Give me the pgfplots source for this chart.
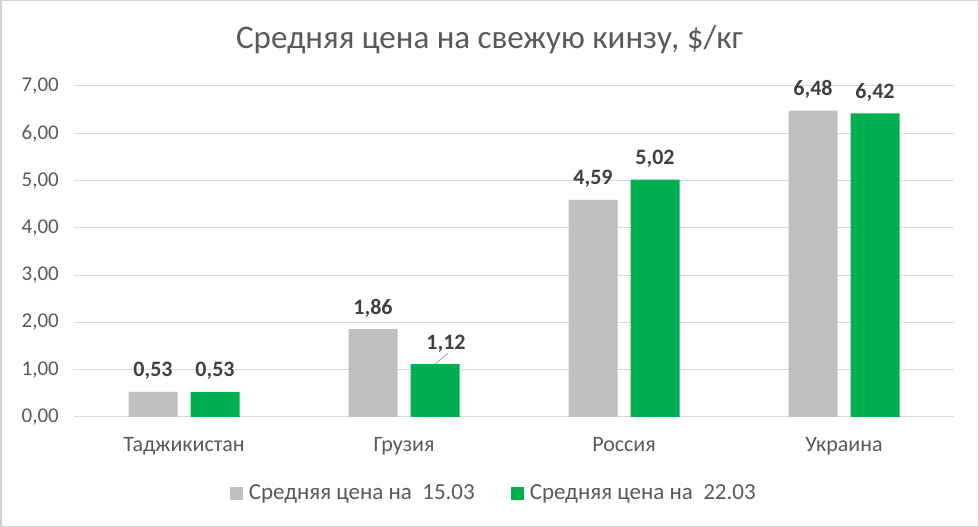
\documentclass[border=0pt]{standalone}
\usepackage{fontspec}
\setmainfont{Carlito}
\usepackage{pgfplots}
\pgfplotsset{compat=1.18}
\usepackage{pgfplotstable}
\definecolor{txt}{RGB}{89,89,89}
\definecolor{lbl}{RGB}{64,64,64}
\definecolor{gridc}{RGB}{217,217,217}
\definecolor{borderc}{RGB}{210,210,210}
\definecolor{barg}{RGB}{191,191,191}
\definecolor{barG}{RGB}{0,176,80}
\definecolor{leader}{RGB}{166,166,166}
\pgfplotstableread{
idx a b dxb
0 0.53 0.53 0
1 1.86 1.12 11
2 4.59 5.02 0
3 6.48 6.42 0
}\data
\begin{document}
\begin{tikzpicture}
\draw[color=borderc, line width=1.5bp] (0.75bp,0.75bp) rectangle (978.25bp,526.25bp);
\node[anchor=base, text=txt, font=\fontsize{33bp}{38bp}\selectfont] at (489.5bp,478bp) {Средняя цена на свежую кинзу, \$/кг};
\begin{axis}[
  at={(74bp,110bp)}, anchor=south west,
  scale only axis, width=880bp, height=331bp,
  xmin=-0.5, xmax=3.5, ymin=0, ymax=7,
  ybar=13bp, bar width=49bp,
  axis line style={draw=none},
  major tick length=0pt,
  ymajorgrids, grid style={color=gridc, line width=1bp},
  xtick={0,1,2,3},
  xticklabels={Таджикистан, Грузия, Россия, Украина},
  ytick={0,1,2,3,4,5,6,7},
  /pgf/number format/.cd, fixed, fixed zerofill, precision=2, use comma, assume math mode=true,
  /pgfplots/.cd,
  yticklabel style={anchor=east, inner sep=0pt, xshift=-15bp, text=txt, font=\fontsize{21bp}{24bp}\selectfont},
  xticklabel style={anchor=base, inner sep=0pt, yshift=-35bp, text=txt, font=\fontsize{22bp}{26bp}\selectfont},
  every node near coord/.append style={anchor=base, inner sep=0pt, yshift=15bp, text=lbl, font=\bfseries\fontsize{22bp}{26bp}\selectfont},
  legend style={at={(0.477,-0.23)}, anchor=center, draw=none, fill=none, text=txt,
    font=\fontsize{23bp}{27bp}\selectfont, legend columns=2,
    /tikz/every even column/.append style={column sep=34bp},
    /tikz/every odd column/.append style={column sep=4bp}},
  legend image code/.code={\fill[#1] (0bp,-6.5bp) rectangle (13bp,6.5bp);},
  clip=false,
]
\addplot[fill=barg, draw=none, nodes near coords] table[x=idx, y=a] {\data};
\addplot[fill=barG, draw=none, nodes near coords,
  visualization depends on={\thisrow{dxb} \as \dx},
  every node near coord/.append style={xshift=\dx bp}] table[x=idx, y=b] {\data};
\draw[color=leader, line width=0.75bp] (axis cs:1.141,1.12) -- (axis cs:1.2,1.35);
\legend{Средняя цена на\ \ 15.03, Средняя цена на\ \ 22.03}
\end{axis}
\end{tikzpicture}
\end{document}
